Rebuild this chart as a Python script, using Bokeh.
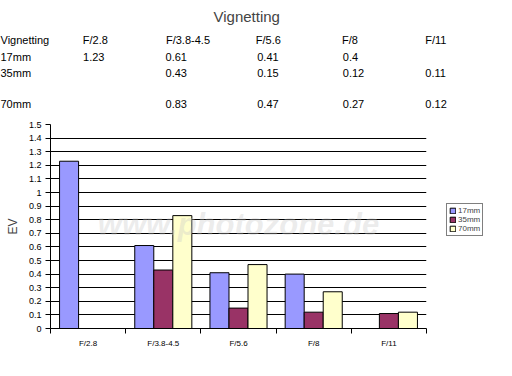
from bokeh.plotting import figure
from bokeh.models import Range1d, FixedTicker, Legend, LegendItem, Title
from bokeh.core.properties import value
from bokeh.embed import file_html
from bokeh.resources import INLINE

# ---- data ----
apertures = ["F/2.8", "F/3.8-4.5", "F/5.6", "F/8", "F/11"]
series_names = ["17mm", "35mm", "70mm"]
v17 = [1.23, 0.61, 0.41, 0.4, None]
v35 = [None, 0.43, 0.15, 0.12, 0.11]
v70 = [None, 0.83, 0.47, 0.27, 0.12]
y_ticks = [0, 0.1, 0.2, 0.3, 0.4, 0.5, 0.6, 0.7, 0.8, 0.9, 1.0, 1.1, 1.2, 1.3, 1.4, 1.5]
y_tick_labels = ["0", "0.1", "0.2", "0.3", "0.4", "0.5", "0.6", "0.7", "0.8", "0.9",
                 "1", "1.1", "1.2", "1.3", "1.4", "1.5"]
colors = ["#9999FF", "#993366", "#FFFFCC"]
FONT = "Liberation Sans"

p = figure(frame_width=376, frame_height=204, sizing_mode="fixed",
           x_range=Range1d(0, len(apertures)), y_range=Range1d(0, 1.5),
           output_backend="svg", toolbar_location=None,
           min_border_left=50, min_border_right=70, min_border_top=122, min_border_bottom=37)
p.outline_line_color = None
p.title.text = "Vignetting"
p.title.align = "left"
p.title.text_font = FONT
p.title.text_font_size = "15px"
p.title.text_font_style = "normal"
p.title.offset = 163
p.title.standoff = 11

# ---- table rows above the chart (one title line per row, columns padded) ----
ARIAL_W = {"0": .556, "1": .556, "2": .556, "3": .556, "4": .556, "5": .556, "6": .556,
           "7": .556, "8": .556, "9": .556, ".": .278, "/": .278, "-": .333, "F": .611,
           "m": .833, "V": .667, "i": .222, "g": .556, "n": .556, "e": .556, "t": .278}
TFS = 11
NB = "\u00a0"
col_pos = [0, 84, 166, 257, 341, 426]

def text_w(s):
    return sum(ARIAL_W.get(ch, .556) for ch in s) * TFS

def make_row(cells):
    out, cur = "", 0.0
    for pos, c in zip(col_pos, cells):
        if c == "":
            continue
        n = max(1 if out else 0, round((pos - cur) / (0.278 * TFS)))
        out += NB * n + c
        cur += n * 0.278 * TFS + text_w(c)
    return out

def fmt(v):
    return "" if v is None else f"{v:g}"

rows = [["Vignetting"] + apertures]
for name, vals in zip(series_names, [v17, v35, v70]):
    rows.append([name] + [fmt(v) for v in vals])
row_standoff = [3, 2, 3, 30]
# add from the row nearest the chart outwards
for i in range(len(rows) - 1, -1, -1):
    t = Title(text=make_row(rows[i]), align="left", offset=-50, standoff=row_standoff[i],
              text_font=FONT, text_font_size=f"{TFS}px",
              text_font_style="normal", text_color="black")
    p.add_layout(t, "above")

centers = [i + 0.5 for i in range(len(apertures))]
p.xaxis.ticker = FixedTicker(ticks=centers, minor_ticks=list(range(len(apertures) + 1)))
p.xaxis.major_label_overrides = {c: a for c, a in zip(centers, apertures)}
p.xaxis.major_tick_line_color = None
p.xaxis.major_tick_out = 0
p.xaxis.major_tick_in = 0
p.xaxis.minor_tick_out = 5
p.xaxis.minor_tick_in = 0
p.xaxis.minor_tick_line_color = "black"
p.xaxis.axis_line_color = "black"
p.xaxis.major_label_text_font = FONT
p.xaxis.major_label_text_font_size = "8px"
p.xaxis.major_label_standoff = 5
p.xaxis.major_label_text_color = "black"

p.yaxis.ticker = FixedTicker(ticks=y_ticks)
p.yaxis.major_label_overrides = {t: l for t, l in zip(y_ticks, y_tick_labels)}
p.yaxis.major_tick_out = 5
p.yaxis.major_tick_in = 0
p.yaxis.major_tick_line_color = "black"
p.yaxis.minor_tick_line_color = None
p.yaxis.axis_line_color = "black"
p.yaxis.major_label_text_font = FONT
p.yaxis.major_label_text_font_size = "9px"
p.yaxis.major_label_standoff = 4
p.yaxis.major_label_text_color = "black"
p.yaxis.axis_label = "EV"
p.yaxis.axis_label_text_font = FONT
p.yaxis.axis_label_text_font_size = "12px"
p.yaxis.axis_label_text_font_style = "normal"
p.yaxis.axis_label_standoff = 6

p.xgrid.grid_line_color = None
p.ygrid.grid_line_color = "black"
p.ygrid.grid_line_width = 1
p.ygrid.ticker = FixedTicker(ticks=y_ticks)

bw = 0.253
offsets = [-bw, 0, bw]
items = []
for name, vals, col, off in zip(series_names, [v17, v35, v70], colors, offsets):
    xs = [c + off for c, v in zip(centers, vals) if v is not None]
    tops = [v for v in vals if v is not None]
    r = p.vbar(x=xs, top=tops, bottom=0, width=bw, fill_color=col, line_color="black",
               line_width=1)
    items.append(LegendItem(label=name, renderers=[r]))

# watermark
p.text(x=[2.5], y=[0.765], text=["www.photozone.de"], text_font=value(FONT),
       text_font_size="31px", text_font_style="bold italic", text_align="center",
       text_baseline="middle", text_color="#c8c8c8", text_alpha=0.35)

legend = Legend(items=items, location=(20, 92), orientation="vertical")
legend.label_text_font = FONT
legend.label_text_font_size = "8px"
legend.glyph_width = 7
legend.glyph_height = 7
legend.label_height = 8
legend.label_standoff = 2
legend.spacing = 0
legend.padding = 2
legend.margin = 0
legend.border_line_color = "black"
legend.border_line_width = 1
legend.background_fill_color = "white"
p.add_layout(legend, "right")

open("out.html", "w").write(file_html(p, INLINE))
